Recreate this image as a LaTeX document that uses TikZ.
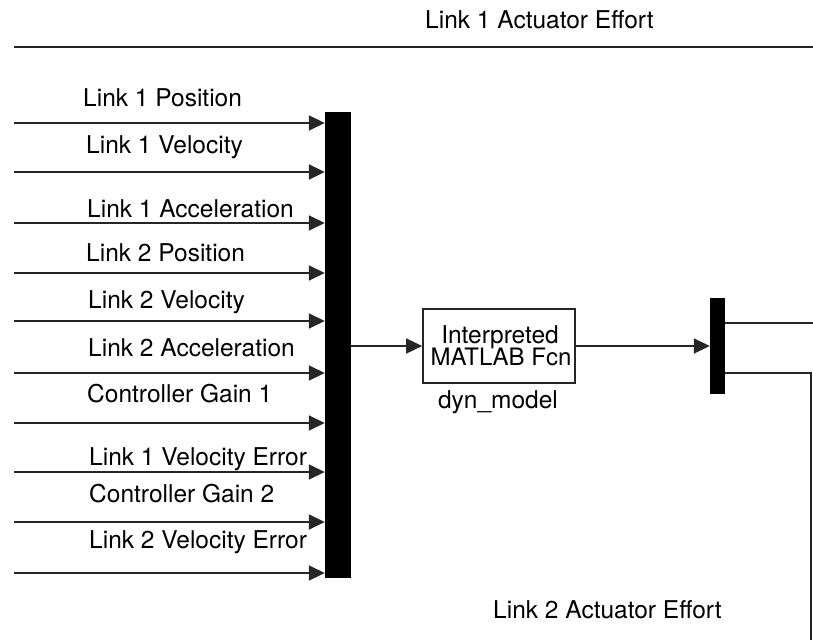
\documentclass[tikz,border=0pt]{standalone}
\usepackage{fontspec}
\setmainfont{TeX Gyre Heros}
\usetikzlibrary{arrows.meta}

\tikzset{
  wire/.style={line width=1.7pt, draw=black!85},
  sig/.style={wire, -{Triangle[length=16pt,width=15pt]}},
  barblock/.style={fill=black, draw=none, inner sep=0pt},
  fcnbox/.style={draw=black!85, line width=1.7pt, fill=white, inner sep=0pt,
                 minimum width=152pt, minimum height=74pt},
  lbl/.style={anchor=base west, inner sep=0pt, font=\fontsize{24.5}{27}\selectfont},
  clbl/.style={anchor=base, inner sep=0pt, font=\fontsize{24.5}{27}\selectfont}
}

\begin{document}
\begin{tikzpicture}[x=1pt,y=-1pt]
  \useasboundingbox (0,0) rectangle (813,640);

  % mux bar, function block and demux bar
  \node[barblock, minimum width=26pt, minimum height=466pt] (mux) at (338,345) {};
  \node[fcnbox] (fcn) at (499,346) {};
  \node[barblock, minimum width=15pt, minimum height=96pt] (demux) at (717.5,346) {};

  % text inside the function block and its name below
  \node[clbl] (fcnA) at (500,343) {Interpreted};
  \node[clbl] (fcnB) at (501,365) {\fontsize{24}{27}\selectfont MATLAB Fcn};
  \node[clbl] (fcnname) at (498,408) {dyn\_model};

  % ten input signals into the mux
  \foreach \y [count=\i] in {123,172,223,273,321,373,423,472,522,573} {
    \coordinate (in\i) at (14,\y);
    \draw[sig] (in\i) -- (in\i -| mux.west);
  }

  % input labels
  \node[lbl] (t1)  at (83,106) {Link 1 Position};
  \node[lbl] (t2)  at (86,153) {Link 1 Velocity};
  \node[lbl] (t3)  at (87,217) {Link 1 Acceleration};
  \node[lbl] (t4)  at (86,261) {Link 2 Position};
  \node[lbl] (t5)  at (88,308) {Link 2 Velocity};
  \node[lbl] (t6)  at (88,356) {Link 2 Acceleration};
  \node[lbl] (t7)  at (87,402) {Controller Gain 1};
  \node[lbl] (t8)  at (89,465) {Link 1 Velocity Error};
  \node[lbl] (t9)  at (89,502) {Controller Gain 2};
  \node[lbl] (t10) at (89,548) {Link 2 Velocity Error};

  % mux -> function -> demux
  \draw[sig] (mux.east |- fcn.west) -- (fcn.west);
  \draw[sig] (fcn.east) -- (demux.west |- fcn.east);

  % demux outputs
  \coordinate (outA) at (813,323);
  \coordinate (outB) at (811,640);
  \draw[wire] (demux.east |- outA) -- (outA);
  \draw[wire] (demux.east |- 0,373) -- (811,373) -- (outB);

  % actuator effort line along the top
  \coordinate (topL) at (14,47);
  \coordinate (topR) at (813,47);
  \draw[wire] (topL) -- (topR);

  \node[lbl] (eff1) at (425,28) {Link 1 Actuator Effort};
  \node[lbl] (eff2) at (493,618) {Link 2 Actuator Effort};
\end{tikzpicture}
\end{document}
